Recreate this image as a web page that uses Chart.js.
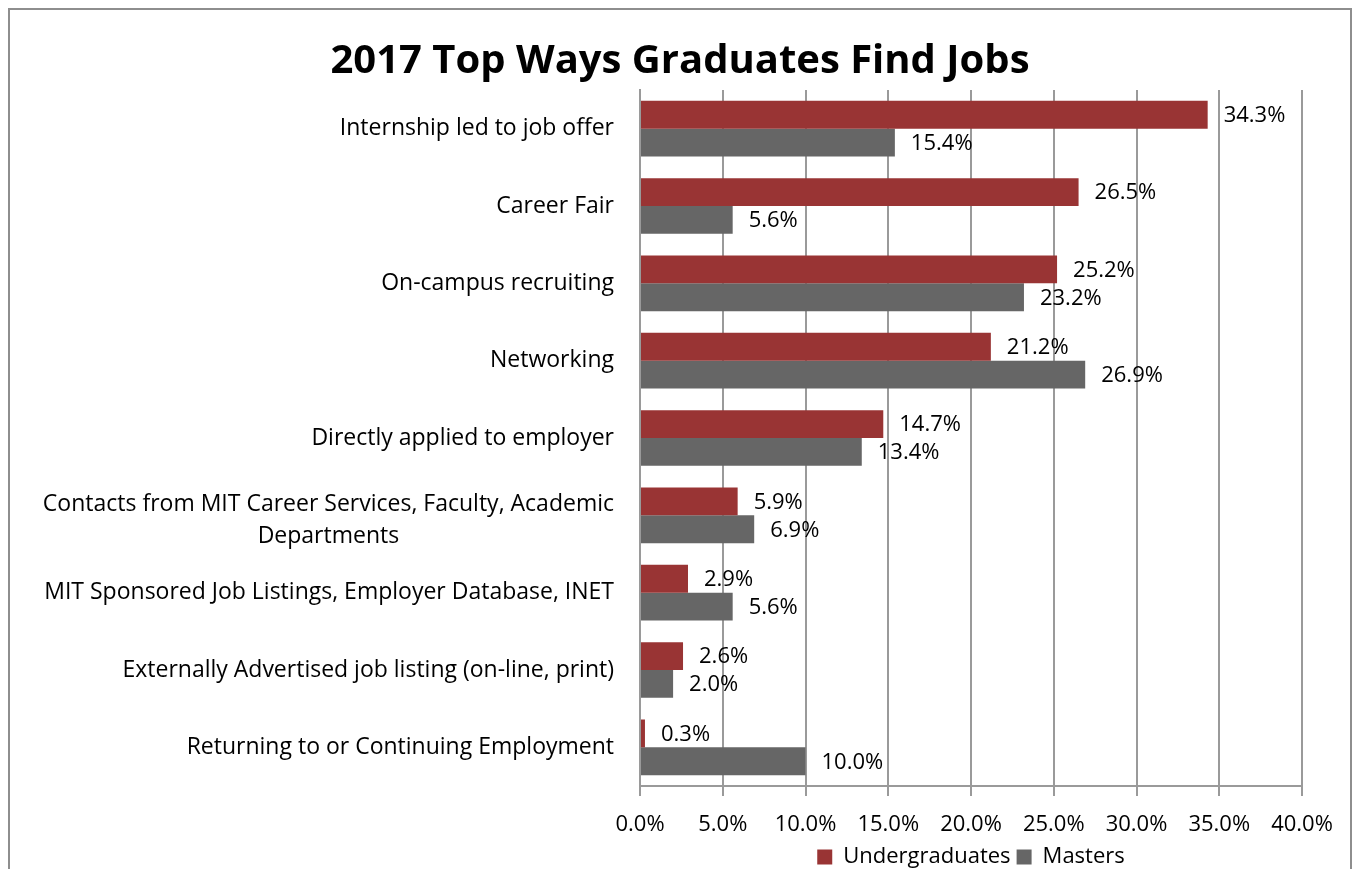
<!DOCTYPE html>
<html>
<head>
<meta charset="utf-8">
<script src="https://cdn.jsdelivr.net/npm/chart.js@4.4.0/dist/chart.umd.min.js"></script>
<style>
html, body { margin: 0; padding: 0; background: #fff; }
#wrap { position: relative; width: 1353px; height: 869px; overflow: hidden; }
#frame { position: absolute; left: 8px; top: 8px; width: 1344px; height: 900px; border: 2px solid #8e8e8e; box-sizing: border-box; }
#box { position: absolute; left: 0; top: 0; width: 1353px; height: 878px; }
</style>
</head>
<body>
<div id="wrap">
  <div id="frame"></div>
  <div id="box"><canvas id="Jobs_Chart"></canvas></div>
</div>
<script>
const categories = [
    'Internship led to job offer',
    'Career Fair',
    'On-campus recruiting',
    'Networking',
    'Directly applied to employer',
    ['Contacts from MIT Career Services, Faculty, Academic', 'Departments'],
    'MIT Sponsored Job Listings, Employer Database, INET',
    'Externally Advertised job listing (on-line, print)',
    'Returning to or Continuing Employment'
];
const undergraduates = [34.3, 26.5, 25.2, 21.2, 14.7, 5.9, 2.9, 2.6, 0.3];
const masters = [15.4, 5.6, 23.2, 26.9, 13.4, 6.9, 5.6, 2.0, 10.0];
const xTickValues = [0, 5, 10, 15, 20, 25, 30, 35, 40];

const FONT = '"Open Sans"';

// value labels to the right of each bar
const barLabels = {
    id: 'barLabels',
    afterDatasetsDraw(chart) {
        const ctx = chart.ctx;
        ctx.save();
        ctx.font = '22px ' + FONT;
        ctx.fillStyle = '#000';
        ctx.textAlign = 'left';
        ctx.textBaseline = 'middle';
        chart.data.datasets.forEach((ds, di) => {
            chart.getDatasetMeta(di).data.forEach((bar, i) => {
                ctx.fillText(ds.data[i].toFixed(1) + '%', bar.x + 16, bar.y + 1);
            });
        });
        ctx.restore();
    }
};

// category labels: right aligned, multi-line ones centred like Excel does
const categoryLabels = {
    id: 'categoryLabels',
    afterDraw(chart) {
        const ctx = chart.ctx;
        const yScale = chart.scales.y;
        const right = chart.chartArea.left - 26;
        ctx.save();
        ctx.font = '23px ' + FONT;
        ctx.fillStyle = '#000';
        ctx.textBaseline = 'middle';
        categories.forEach((label, i) => {
            const y = yScale.getPixelForValue(i);
            if (Array.isArray(label)) {
                const widest = Math.max(...label.map(l => ctx.measureText(l).width));
                ctx.textAlign = 'center';
                label.forEach((line, k) => {
                    ctx.fillText(line, right - widest / 2, y + 5 + (k - (label.length - 1) / 2) * 32);
                });
            } else {
                ctx.textAlign = 'right';
                ctx.fillText(label, right, y);
            }
        });
        ctx.restore();
    }
};

const ctxJobs = document.getElementById('Jobs_Chart').getContext('2d');
new Chart(ctxJobs, {
    type: 'bar',
    data: {
        labels: categories,
        datasets: [{
            label: 'Undergraduates',
            data: undergraduates,
            backgroundColor: '#993434',
            categoryPercentage: 0.72,
            barPercentage: 1.0
        }, {
            label: 'Masters',
            data: masters,
            backgroundColor: '#666666',
            categoryPercentage: 0.72,
            barPercentage: 1.0
        }]
    },
    options: {
        indexAxis: 'y',
        responsive: true,
        maintainAspectRatio: false,
        animation: false,
        layout: {
            padding: { top: 0, right: 51, bottom: 0, left: 58 }
        },
        plugins: {
            title: {
                display: true,
                text: '2017 Top Ways Graduates Find Jobs',
                color: '#000',
                font: { family: FONT, size: 40, weight: 'bold', lineHeight: 1.1 },
                padding: { top: 40, bottom: 6 }
            },
            legend: {
                display: true,
                position: 'bottom',
                fullSize: false,
                labels: {
                    color: '#000',
                    font: { family: FONT, size: 22 },
                    boxWidth: 15,
                    boxHeight: 15,
                    padding: 6
                }
            },
            tooltip: { enabled: false }
        },
        scales: {
            x: {
                min: 0,
                max: 40,
                afterBuildTicks: (scale) => {
                    scale.ticks = xTickValues.map(v => ({ value: v }));
                },
                afterFit: (scale) => { scale.height = 54; },
                ticks: {
                    color: '#000',
                    font: { family: FONT, size: 22, lineHeight: 1.2 },
                    padding: 16,
                    maxRotation: 0,
                    callback: (v) => Number(v).toFixed(1) + '%'
                },
                grid: {
                    color: '#9a9a9a',
                    lineWidth: 2,
                    tickLength: 10
                },
                border: { display: true, color: '#9a9a9a', width: 2 }
            },
            y: {
                ticks: { display: false },
                grid: { display: false },
                border: { display: true, color: '#9a9a9a', width: 2 },
                afterFit: (scale) => { scale.width = 582; }
            }
        }
    },
    plugins: [barLabels, categoryLabels]
});
</script>
</body>
</html>
